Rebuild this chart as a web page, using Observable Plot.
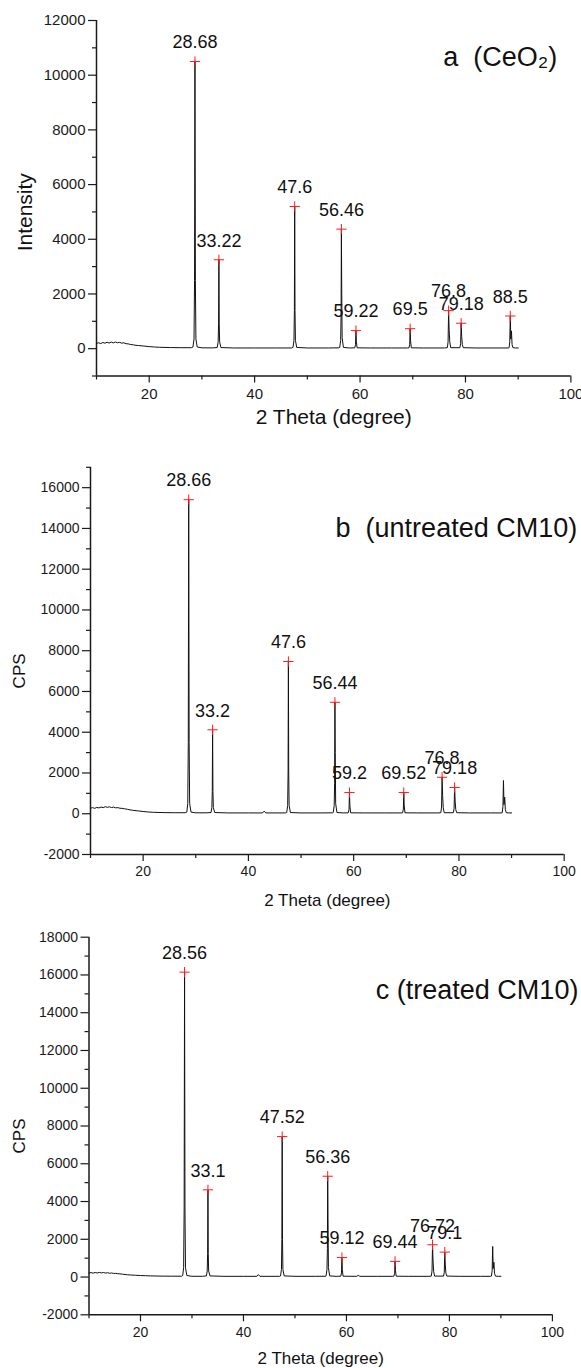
<!DOCTYPE html>
<html><head><meta charset="utf-8">
<script src="https://cdn.jsdelivr.net/npm/d3@7"></script>
<script src="https://cdn.jsdelivr.net/npm/@observablehq/plot@0.6"></script>
<style>
body{margin:0;background:#fff;}
#chart{width:581px;height:1368px;position:relative;overflow:hidden;background:#fff;}
#chart svg{display:block;overflow:visible;}
</style></head><body><div id="chart"></div>
<script>
// ---------- data ----------
const xMajorTicks = [20, 40, 60, 80, 100];
const xMinorTicks = [10, 30, 50, 70, 90];
const xTitle = "2 Theta (degree)";

// Panel a (CeO2)
const patternA = [
  [10.0,190],[10.4,215],[10.8,185],[11.2,225],[11.6,200],[12.0,235],[12.4,205],[12.8,240],[13.2,210],[13.6,245],
  [14.0,215],[14.4,230],[14.8,200],[15.2,215],[15.6,180],[16.0,175],[16.5,150],[17.0,140],[17.5,120],[18.0,115],
  [19.0,95],[20.0,75],[21.0,60],[22.0,50],[24.0,40],[26.0,35],[28.0,35],
  [28.3,60],[28.5,350],[28.6,2500],[28.68,10500],[28.76,2500],[28.86,350],[29.1,60],
  [30,30],[32,28],
  [32.9,40],[33.08,250],[33.16,900],[33.22,3250],[33.28,900],[33.36,250],[33.6,40],
  [36,25],[40,25],[44,25],[47,25],
  [47.28,45],[47.46,300],[47.54,1400],[47.6,5200],[47.66,1400],[47.74,300],[47.98,45],
  [50,25],[54,25],[56,30],
  [56.14,45],[56.32,300],[56.4,1200],[56.46,4370],[56.52,2200],[56.6,400],[56.84,45],
  [58,25],
  [59.0,30],[59.14,150],[59.22,660],[59.3,250],[59.44,30],
  [62,25],[66,25],[69,25],
  [69.28,30],[69.42,160],[69.5,730],[69.58,300],[69.72,30],
  [72,25],[76,25],
  [76.56,35],[76.7,250],[76.8,1390],[76.9,700],[77.02,250],[77.2,35],
  [78.94,35],[79.08,180],[79.18,930],[79.28,450],[79.4,150],[79.58,35],
  [82,25],[86,25],[88.1,25],
  [88.28,35],[88.4,250],[88.5,1195],[88.6,350],[88.72,650],[88.84,150],[89.0,35],
  [89.5,25],[90,25]
];
const peakPosA = [28.68, 33.22, 47.6, 56.46, 59.22, 69.5, 76.8, 79.18, 88.5];
const peakIntA = [10500, 3250, 5200, 4370, 660, 730, 1390, 930, 1195];
const peakLabelA = ["28.68", "33.22", "47.6", "56.46", "59.22", "69.5", "76.8", "79.18", "88.5"];
const yMajorA = [0, 2000, 4000, 6000, 8000, 10000, 12000];
const yMinorA = [-1000, 1000, 3000, 5000, 7000, 9000, 11000];

// Panel b (untreated CM10)
const patternB = [
  [10.0,270],[10.4,300],[10.8,265],[11.2,310],[11.6,285],[12.0,330],[12.4,300],[12.8,345],[13.2,315],[13.6,340],
  [14.0,305],[14.4,325],[14.8,290],[15.2,300],[15.6,270],[16.0,265],[16.5,240],[17.0,220],[17.5,190],[18.0,170],
  [19.0,140],[20.0,110],[21.0,85],[22.0,70],[24.0,55],[26.0,50],[28.0,50],
  [28.3,80],[28.48,500],[28.58,3500],[28.66,15410],[28.74,3500],[28.84,500],[29.1,80],
  [30,45],[32,45],
  [32.9,60],[33.06,300],[33.14,1100],[33.2,4120],[33.26,1100],[33.34,300],[33.6,60],
  [36,40],[40,40],[42.7,40],[43.0,130],[43.3,40],[47,40],
  [47.28,60],[47.46,400],[47.54,2000],[47.6,7470],[47.66,2000],[47.74,400],[47.98,60],
  [50,40],[54,40],[56,45],
  [56.12,60],[56.3,400],[56.38,1500],[56.44,5470],[56.5,3000],[56.58,500],[56.82,60],
  [58,40],
  [58.98,45],[59.12,220],[59.2,1040],[59.28,400],[59.42,45],
  [62,40],[66,40],[69,40],
  [69.3,45],[69.44,230],[69.52,1040],[69.6,420],[69.74,45],
  [72,40],[76,40],
  [76.56,50],[76.7,330],[76.8,1790],[76.9,900],[77.02,300],[77.2,50],
  [78.94,50],[79.08,250],[79.18,1290],[79.28,620],[79.4,200],[79.58,50],
  [82,40],[86,40],[88.0,40],
  [88.22,50],[88.36,350],[88.46,1630],[88.56,450],[88.7,810],[88.82,200],[89.0,50],
  [89.5,40],[90,40]
];
const peakPosB = [28.66, 33.2, 47.6, 56.44, 59.2, 69.52, 76.8, 79.18];
const peakIntB = [15410, 4120, 7470, 5470, 1040, 1040, 1790, 1290];
const peakLabelB = ["28.66", "33.2", "47.6", "56.44", "59.2", "69.52", "76.8", "79.18"];
const yMajorB = [-2000, 0, 2000, 4000, 6000, 8000, 10000, 12000, 14000, 16000];
const yMinorB = [-1000, 1000, 3000, 5000, 7000, 9000, 11000, 13000, 15000, 17000];

// Panel c (treated CM10)
const patternC = [
  [10.0,210],[10.4,235],[10.8,205],[11.2,240],[11.6,215],[12.0,245],[12.4,220],[12.8,240],[13.2,210],[13.6,230],
  [14.0,200],[14.4,215],[14.8,190],[15.2,195],[15.6,175],[16.0,170],[16.5,150],[17.0,135],[17.5,120],[18.0,110],
  [19.0,95],[20.0,80],[21.0,70],[22.0,60],[24.0,50],[26.0,45],[28.0,45],
  [28.2,80],[28.38,500],[28.48,3600],[28.56,16150],[28.64,3600],[28.74,500],[29.0,80],
  [30,40],[32,40],
  [32.8,60],[32.96,320],[33.04,1250],[33.1,4620],[33.16,1250],[33.24,320],[33.5,60],
  [36,38],[40,38],[42.6,38],[42.9,130],[43.2,38],[47,38],
  [47.2,60],[47.38,400],[47.46,2000],[47.52,7440],[47.58,2000],[47.66,400],[47.9,60],
  [50,38],[54,38],[56,42],
  [56.04,60],[56.22,400],[56.3,1500],[56.36,5340],[56.42,3100],[56.5,500],[56.74,60],
  [58,38],
  [58.9,45],[59.04,220],[59.12,1030],[59.2,400],[59.34,45],
  [62.0,38],[62.3,90],[62.6,38],[66,38],[69,38],
  [69.22,45],[69.36,190],[69.44,830],[69.52,340],[69.66,45],
  [72,38],[76,38],
  [76.48,50],[76.62,320],[76.72,1710],[76.82,850],[76.94,300],[77.12,50],
  [78.86,50],[79.0,250],[79.1,1320],[79.2,640],[79.32,200],[79.5,50],
  [82,38],[86,38],[88.0,38],
  [88.16,50],[88.3,350],[88.4,1620],[88.5,450],[88.64,780],[88.76,200],[88.94,50],
  [89.5,38],[90,38]
];
const peakPosC = [28.56, 33.1, 47.52, 56.36, 59.12, 69.44, 76.72, 79.1];
const peakIntC = [16150, 4620, 7440, 5340, 1030, 830, 1710, 1320];
const peakLabelC = ["28.56", "33.1", "47.52", "56.36", "59.12", "69.44", "76.72", "79.1"];
const yMajorC = [-2000, 0, 2000, 4000, 6000, 8000, 10000, 12000, 14000, 16000, 18000];
const yMinorC = [-1000, 1000, 3000, 5000, 7000, 9000, 11000, 13000, 15000, 17000];

// ---------- drawing ----------
const FONT = "'Liberation Sans', Arial, Helvetica, sans-serif";
const fmt = d => String(d);

function panel(c) {
  const pts = c.pattern.map(([x, y]) => ({x, y}));
  const peaks = c.peakPos.map((x, i) => ({x, y: c.peakInt[i], label: c.peakLabel[i]}));
  return Plot.plot({
    width: 581, height: c.height,
    marginLeft: c.ml, marginRight: c.mr, marginTop: c.mt, marginBottom: c.mb,
    style: {fontFamily: FONT, color: "#1a1a1a", background: "white", overflow: "visible"},
    x: {domain: [10, 100]},
    y: {domain: c.yDomain},
    marks: [
      Plot.axisX({ticks: xMajorTicks, tickSize: 7, tickPadding: 5, fontSize: c.tickFont, tickFormat: fmt, label: null, strokeWidth: 1.2}),
      Plot.axisX({ticks: xMinorTicks, tickSize: 4, tickFormat: () => "", label: null, strokeWidth: 1.2}),
      Plot.axisY({ticks: c.yMajor, tickSize: 8, tickPadding: 3, fontSize: c.tickFont, tickFormat: fmt, label: null, strokeWidth: 1.2}),
      Plot.axisY({ticks: c.yMinor, tickSize: 4, tickFormat: () => "", label: null, strokeWidth: 1.2}),
      Plot.ruleX([10], {stroke: "#1a1a1a", strokeWidth: 1.5}),
      Plot.ruleY([c.yDomain[0]], {stroke: "#1a1a1a", strokeWidth: 1.5}),
      Plot.line(pts, {x: "x", y: "y", stroke: "#111", strokeWidth: 1}),
      Plot.dot(peaks, {x: "x", y: "y", symbol: "plus", r: 3.4, stroke: "#ff1a1a", strokeWidth: 1}),
      Plot.text(peaks, {x: "x", y: "y", text: "label", dy: -19, fontSize: 18, fill: "#111", lineAnchor: "middle"}),
      Plot.text([xTitle], {frameAnchor: "bottom", textAnchor: "middle", lineAnchor: "middle", dy: c.xtDy, fontSize: c.titleFont, fill: "#111"}),
      Plot.text([c.yTitle], {frameAnchor: "left", textAnchor: "middle", lineAnchor: "middle", rotate: -90, dx: c.ytDx, dy: c.ytDy, fontSize: c.titleFont, fill: "#111"}),
      Plot.text([c.panelLabel], {frameAnchor: "top-right", textAnchor: "end", lineAnchor: "middle", dx: c.plDx, dy: c.plDy, fontSize: 27, fill: "#111"})
    ]
  });
}

const root = document.getElementById("chart");
root.append(panel({
  pattern: patternA, peakPos: peakPosA, peakInt: peakIntA, peakLabel: peakLabelA,
  yDomain: [-1000, 12000], yMajor: yMajorA, yMinor: yMinorA,
  yTitle: "Intensity", panelLabel: "a\u00a0 (CeO\u2082)",
  height: 440, ml: 96, mr: 10.6, mt: 20, mb: 64.5,
  tickFont: 15, titleFont: 21, xtDy: 41, ytDx: -71, ytDy: 14, plDx: -13.7, plDy: 37
}));
root.append(panel({
  pattern: patternB, peakPos: peakPosB, peakInt: peakIntB, peakLabel: peakLabelB,
  yDomain: [-2000, 17000], yMajor: yMajorB, yMinor: yMinorB,
  yTitle: "CPS", panelLabel: "b\u00a0 (untreated CM10)",
  height: 470, ml: 90, mr: 17.3, mt: 26.8, mb: 56,
  tickFont: 14, titleFont: 17, xtDy: 46, ytDx: -71, ytDy: 10, plDx: 13, plDy: 61
}));
root.append(panel({
  pattern: patternC, peakPos: peakPosC, peakInt: peakIntC, peakLabel: peakLabelC,
  yDomain: [-2000, 18000], yMajor: yMajorC, yMinor: yMinorC,
  yTitle: "CPS", panelLabel: "c (treated CM10)",
  height: 458, ml: 88.5, mr: 29.1, mt: 26.7, mb: 53.7,
  tickFont: 14, titleFont: 17, xtDy: 43.5, ytDx: -69, ytDy: 10, plDx: 26, plDy: 53
}));
</script></body></html>
